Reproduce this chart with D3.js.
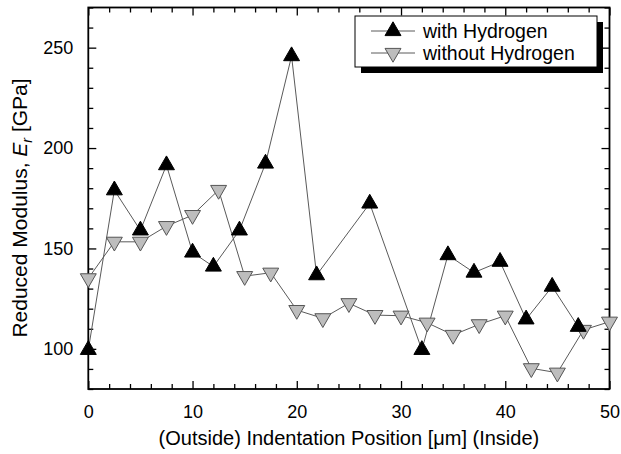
<!DOCTYPE html>
<html><head><meta charset="utf-8">
<script src="https://cdn.jsdelivr.net/npm/d3@7"></script>
<style>body{margin:0;background:#fff}svg{display:block}text{font-family:"Liberation Sans",Arial,sans-serif}</style>
</head><body><svg id="c" width="621" height="454"></svg>
<script>
const withX = [0, 2.5, 5, 7.5, 10, 12, 14.5, 17, 19.5, 21.9, 27, 32, 34.5, 37, 39.5, 42, 44.5, 47];
const withY = [99.5, 179, 159, 191.5, 148, 141, 159, 192.3, 245.8, 136.7, 172.4, 99.5, 146.7, 138, 143.4, 114.7, 131, 111];
const withoutX = [0, 2.5, 5, 7.5, 10, 12.5, 15, 17.5, 20, 22.5, 25, 27.5, 30, 32.5, 35, 37.5, 40, 42.5, 45, 47.5, 50];
const withoutY = [135.1, 153.3, 153.3, 161.1, 166.6, 179.1, 136.2, 137.9, 119.3, 115.2, 122.7, 116.8, 116.5, 113, 106.9, 112.2, 116.5, 90.3, 88.1, 109.4, 113.5];
const xTicks = [0, 10, 20, 30, 40, 50];
const yTicks = [100, 150, 200, 250];
const seriesNames = ["with Hydrogen", "without Hydrogen"];

const svg = d3.select("#c");
const L = 88.3, R = 609.5, T = 7.5, B = 389;
const x = d3.scaleLinear().domain([0, 50]).range([L, R]);
const y = d3.scaleLinear().domain([80, 270]).range([B, T]);

const lineCol = "#5a5a5a";
const upTri = d3.symbol().type(d3.symbolTriangle).size(110);
const downTri = d3.symbol().type(d3.symbolTriangle).size(110);

const xMinor = d3.range(0, 50.01, 2).filter(v => v % 10 !== 0);
const yMinor = d3.range(80, 270.01, 10).filter(v => v % 50 !== 0);

const g = svg.append("g");
const axB = d3.axisBottom(x).tickValues(xTicks).tickSize(-8).tickPadding(16).tickFormat(d3.format("d"));
const axL = d3.axisLeft(y).tickValues(yTicks).tickSize(-8).tickPadding(15).tickFormat(d3.format("d"));
const axT = d3.axisTop(x).tickValues(xTicks).tickSize(-8).tickFormat("");
const axR = d3.axisRight(y).tickValues(yTicks).tickSize(-8).tickFormat("");
g.append("g").attr("transform", `translate(0,${B})`).call(axB);
g.append("g").attr("transform", `translate(${L},0)`).call(axL);
g.append("g").attr("transform", `translate(0,${T})`).call(axT);
g.append("g").attr("transform", `translate(${R},0)`).call(axR);
g.append("g").attr("transform", `translate(0,${B})`).call(d3.axisBottom(x).tickValues(xMinor).tickSize(-5).tickFormat(""));
g.append("g").attr("transform", `translate(0,${T})`).call(d3.axisTop(x).tickValues(xMinor).tickSize(-5).tickFormat(""));
g.append("g").attr("transform", `translate(${L},0)`).call(d3.axisLeft(y).tickValues(yMinor).tickSize(-5).tickFormat(""));
g.append("g").attr("transform", `translate(${R},0)`).call(d3.axisRight(y).tickValues(yMinor).tickSize(-5).tickFormat(""));
g.selectAll(".domain").remove();
g.selectAll(".tick line").attr("stroke", "#000").attr("stroke-width", 1.3);
g.selectAll(".tick text").attr("font-size", 18).attr("fill", "#000").attr("font-family", "Liberation Sans, Arial, sans-serif");
g.append("rect").attr("x", L).attr("y", T).attr("width", R - L).attr("height", B - T)
  .attr("fill", "none").attr("stroke", "#000").attr("stroke-width", 1.8);

const line = d3.line().x(d => x(d[0])).y(d => y(d[1]));
const withData = withX.map((v, i) => [v, withY[i]]);
const withoutData = withoutX.map((v, i) => [v, withoutY[i]]);
svg.append("path").datum(withData).attr("d", line).attr("fill", "none").attr("stroke", lineCol).attr("stroke-width", 1);
svg.append("path").datum(withoutData).attr("d", line).attr("fill", "none").attr("stroke", lineCol).attr("stroke-width", 1);

svg.selectAll(".wo").data(withoutData).enter().append("path")
  .attr("d", downTri).attr("transform", d => `translate(${x(d[0])},${y(d[1])}) rotate(180)`)
  .attr("fill", "#bdbdbd").attr("stroke", "#555").attr("stroke-width", 1);
svg.selectAll(".wi").data(withData).enter().append("path")
  .attr("d", upTri).attr("transform", d => `translate(${x(d[0])},${y(d[1])})`)
  .attr("fill", "#000").attr("stroke", "#000").attr("stroke-width", 1);

const lx = 355, ly = 16, lw = 242, lh = 51;
svg.append("rect").attr("x", lx + 6).attr("y", ly + 6).attr("width", lw).attr("height", lh).attr("fill", "#000");
svg.append("rect").attr("x", lx).attr("y", ly).attr("width", lw).attr("height", lh).attr("fill", "#fff").attr("stroke", "#000").attr("stroke-width", 1);
const rows = [ly + 15, ly + 37];
rows.forEach((ry, i) => {
  svg.append("line").attr("x1", lx + 16).attr("x2", lx + 60).attr("y1", ry).attr("y2", ry).attr("stroke", lineCol).attr("stroke-width", 1);
  if (i === 0) svg.append("path").attr("d", upTri).attr("transform", `translate(${lx + 38},${ry})`).attr("fill", "#000").attr("stroke", "#000");
  else svg.append("path").attr("d", downTri).attr("transform", `translate(${lx + 38},${ry}) rotate(180)`).attr("fill", "#bdbdbd").attr("stroke", "#555");
  svg.append("text").attr("x", lx + 68).attr("y", ry + 7).attr("font-size", 19.5).text(seriesNames[i]);
});

svg.append("text").attr("x", (L + R) / 2).attr("y", 445).attr("text-anchor", "middle").attr("font-size", 20)
  .text("(Outside) Indentation Position [\u03bcm] (Inside)");
const yt = svg.append("text").attr("transform", `translate(27,208) rotate(-90)`).attr("text-anchor", "middle").attr("font-size", 21);
yt.append("tspan").text("Reduced Modulus, ");
yt.append("tspan").attr("font-style", "italic").text("E");
yt.append("tspan").attr("font-style", "italic").attr("font-size", 14).attr("dy", 5).text("r");
yt.append("tspan").attr("dy", -5).text(" [GPa]");
</script></body></html>
